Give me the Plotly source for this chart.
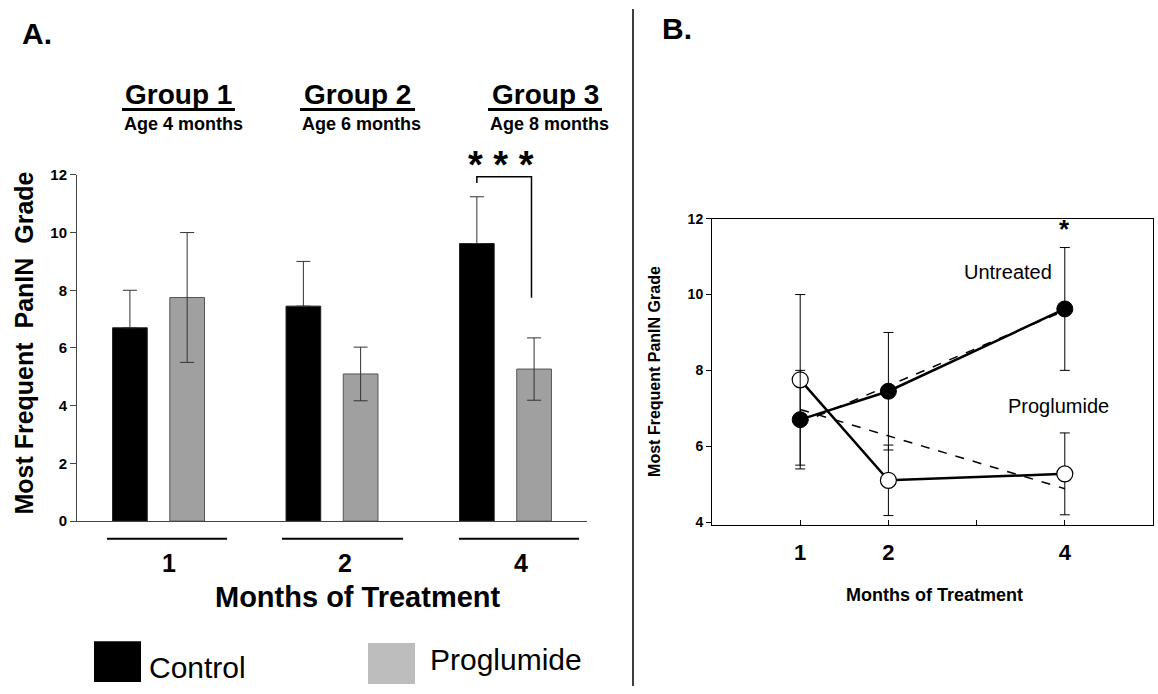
import numpy as np
import plotly.graph_objects as go

W, H = 1158, 694

# ---------------- data ----------------
months = ["1", "2", "4"]
months_num = [1, 2, 4]
control_mean = [6.7, 7.45, 9.62]
control_err = [1.3, 1.55, 1.62]
proglumide_mean = [7.75, 5.1, 5.27]
proglumide_err = [2.25, 0.93, 1.08]
group_titles = ["Group 1", "Group 2", "Group 3"]
group_ages = ["Age 4 months", "Age 6 months", "Age 8 months"]
yticks_a = [0, 2, 4, 6, 8, 10, 12]
yticks_b = [4, 6, 8, 10, 12]
xticks_b = [1, 2, 3, 4]
xticklabels_b = ["1", "2", "", "4"]

FONT = "Liberation Sans, Arial, sans-serif"


def px(x):
    return x / W


def py(y):
    return 1 - y / H


fig = go.Figure()

# ---------------- Panel A: bars ----------------
fig.add_trace(go.Bar(
    x=months, y=control_mean, width=0.2, offset=-0.265,
    marker=dict(color="black", line=dict(color="#222", width=1)),
    error_y=dict(type="data", array=control_err, symmetric=False, arrayminus=[0, 0, 0],
                 color="#333", thickness=1, width=7),
    xaxis="x", yaxis="y", showlegend=False, name="Control"))
fig.add_trace(go.Bar(
    x=months, y=proglumide_mean, width=0.2, offset=0.065,
    marker=dict(color="#a0a0a0", line=dict(color="#555", width=1)),
    error_y=dict(type="data", array=proglumide_err, color="#333", thickness=1, width=7),
    xaxis="x", yaxis="y", showlegend=False, name="Proglumide"))

# ---------------- Panel B: lines ----------------
xs = np.array(months_num, dtype=float)
fit_u = np.polyfit(xs, control_mean, 1)
fit_p = np.polyfit(xs, proglumide_mean, 1)
xl = np.array([xs.min(), xs.max()])
fig.add_trace(go.Scatter(x=xl, y=np.polyval(fit_u, xl), mode="lines",
                         line=dict(color="black", width=1.5, dash="dash"),
                         xaxis="x2", yaxis="y2", showlegend=False, hoverinfo="skip"))
fig.add_trace(go.Scatter(x=xl, y=np.polyval(fit_p, xl), mode="lines",
                         line=dict(color="black", width=1.5, dash="dash"),
                         xaxis="x2", yaxis="y2", showlegend=False, hoverinfo="skip"))
fig.add_trace(go.Scatter(
    x=months_num, y=proglumide_mean, mode="lines+markers",
    line=dict(color="black", width=2.5),
    marker=dict(size=16, color="white", line=dict(color="black", width=1.2)),
    error_y=dict(type="data", array=proglumide_err, color="black", thickness=1, width=5),
    xaxis="x2", yaxis="y2", showlegend=False, name="Proglumide"))
fig.add_trace(go.Scatter(
    x=months_num, y=control_mean, mode="lines+markers",
    line=dict(color="black", width=2.5),
    marker=dict(size=16, color="black", line=dict(color="black", width=1)),
    error_y=dict(type="data", array=control_err, color="black", thickness=1, width=5),
    xaxis="x2", yaxis="y2", showlegend=False, name="Untreated"))

# ---------------- axes ----------------
fig.update_layout(
    width=W, height=H, margin=dict(l=0, r=0, t=0, b=0),
    paper_bgcolor="white", plot_bgcolor="white",
    font=dict(family=FONT, color="black"),
    xaxis=dict(domain=[px(77), px(587)], type="category", range=[-0.47, 2.47],
               showline=True, linecolor="#444", linewidth=1, ticks="",
               showticklabels=False, showgrid=False, zeroline=False, anchor="y"),
    yaxis=dict(domain=[py(525), py(170)], range=[0, 12], tickvals=yticks_a,
               showline=True, linecolor="#444", linewidth=1, ticks="outside",
               ticklen=6, tickcolor="#444", showgrid=False, zeroline=False,
               tickfont=dict(size=15, family=FONT, weight="bold"), anchor="x"),
    xaxis2=dict(domain=[px(712), px(1153)], range=[0, 5], tickvals=xticks_b,
                ticktext=xticklabels_b, showline=True, mirror=True, linecolor="black",
                linewidth=1, ticks="inside", ticklen=5, tickcolor="black",
                showgrid=False, zeroline=False, ticklabelstandoff=8,
                tickfont=dict(size=22, family=FONT, weight="bold"), anchor="y2"),
    yaxis2=dict(domain=[py(529), py(215)], range=[3.92, 12], tickvals=yticks_b,
                showline=True, mirror=True, linecolor="black", linewidth=1,
                ticks="outside", ticklen=5, tickcolor="black", showgrid=False,
                zeroline=False, tickfont=dict(size=14, family=FONT, weight="bold"),
                anchor="x2"),
)

shapes = []
ann = []

# panel divider
shapes.append(dict(type="line", xref="paper", yref="paper", x0=px(633), x1=px(633),
                   y0=0, y1=1, line=dict(color="black", width=1.5)))

# panel letters
ann.append(dict(text="<b>A.</b>", x=px(20), y=py(25), xref="paper", yref="paper",
                xanchor="left", yanchor="middle", showarrow=False, font=dict(size=30)))
ann.append(dict(text="<b>B.</b>", x=px(660), y=py(20), xref="paper", yref="paper",
                xanchor="left", yanchor="middle", showarrow=False, font=dict(size=30)))

# group headers
g_left = [122, 300, 488]
g_right = [235, 415, 602]
for i in range(3):
    cx = (g_left[i] + g_right[i]) / 2
    ann.append(dict(text="<b>%s</b>" % group_titles[i], x=px(cx), y=py(88),
                    xref="paper", yref="paper", xanchor="center", yanchor="middle",
                    showarrow=False, font=dict(size=28)))
    shapes.append(dict(type="line", xref="paper", yref="paper", x0=px(g_left[i]),
                       x1=px(g_right[i]), y0=py(103), y1=py(103),
                       line=dict(color="black", width=3)))
    ann.append(dict(text="<b>%s</b>" % group_ages[i], x=px(g_left[i]), y=py(118),
                    xref="paper", yref="paper", xanchor="left", yanchor="middle",
                    showarrow=False, font=dict(size=18)))

# month lines and labels under panel A
l_left = [107, 282, 459]
l_right = [227, 403, 579]
for i in range(3):
    shapes.append(dict(type="line", xref="paper", yref="paper", x0=px(l_left[i]),
                       x1=px(l_right[i]), y0=py(543), y1=py(543),
                       line=dict(color="black", width=2)))
    ann.append(dict(text="<b>%s</b>" % months[i], x=px((l_left[i] + l_right[i]) / 2 + 2),
                    y=py(568), xref="paper", yref="paper", xanchor="center",
                    yanchor="middle", showarrow=False, font=dict(size=25)))

ann.append(dict(text="<b>Months of Treatment</b>", x=px(358), y=py(603), xref="paper",
                yref="paper", xanchor="center", yanchor="middle", showarrow=False,
                font=dict(size=29)))
ann.append(dict(text="<b>Most Frequent  PanIN  Grade</b>", x=px(24), y=py(343),
                xref="paper", yref="paper", textangle=-90, xanchor="center",
                yanchor="middle", showarrow=False, font=dict(size=25)))

# legend panel A
shapes.append(dict(type="rect", xref="paper", yref="paper", x0=px(94), x1=px(141),
                   y0=py(690), y1=py(648), fillcolor="black", line=dict(width=0)))
shapes.append(dict(type="rect", xref="paper", yref="paper", x0=px(368), x1=px(415),
                   y0=py(692), y1=py(650), fillcolor="#bdbdbd", line=dict(width=0)))
ann.append(dict(text="Control", x=px(147), y=py(675), xref="paper", yref="paper",
                xanchor="left", yanchor="middle", showarrow=False, font=dict(size=30)))
ann.append(dict(text="Proglumide", x=px(428), y=py(667), xref="paper", yref="paper",
                xanchor="left", yanchor="middle", showarrow=False, font=dict(size=30)))

# significance bracket on panel A
shapes.append(dict(type="path", xref="x", yref="y",
                   path="M 1.835 11.72 L 1.835 11.93 L 2.15 11.93 L 2.15 7.74",
                   line=dict(color="black", width=1.5)))
ann.append(dict(text="<b>* * *</b>", x=px(501), y=py(160), xref="paper", yref="paper",
                xanchor="center", yanchor="middle", showarrow=False, font=dict(size=38)))

# panel B annotations
ann.append(dict(text="<b>Most Frequent PanIN Grade</b>", x=px(655), y=py(372),
                xref="paper", yref="paper", textangle=-90, xanchor="center",
                yanchor="middle", showarrow=False, font=dict(size=16)))
ann.append(dict(text="<b>Months of Treatment</b>", x=px(935), y=py(601), xref="paper",
                yref="paper", xanchor="center", yanchor="middle", showarrow=False,
                font=dict(size=18)))
ann.append(dict(text="Untreated", x=px(1008), y=py(270), xref="paper", yref="paper",
                xanchor="center", yanchor="middle", showarrow=False, font=dict(size=20)))
ann.append(dict(text="Proglumide", x=px(1058), y=py(407), xref="paper", yref="paper",
                xanchor="center", yanchor="middle", showarrow=False, font=dict(size=20)))
ann.append(dict(text="<b>*</b>", x=4, y=control_mean[2] + control_err[2], xref="x2",
                yref="y2", xanchor="center", yanchor="bottom", yshift=2,
                showarrow=False, font=dict(size=26)))

fig.update_layout(shapes=shapes, annotations=ann)

# remove the browser's default 8px body margin so the figure fills the window exactly
POST = ("document.body.style.margin='0';document.body.style.padding='0';"
        "document.body.style.overflow='hidden';"
        "document.documentElement.style.overflow='hidden';")
fig.write_html("out.html", post_script=POST, config={"displayModeBar": False})
